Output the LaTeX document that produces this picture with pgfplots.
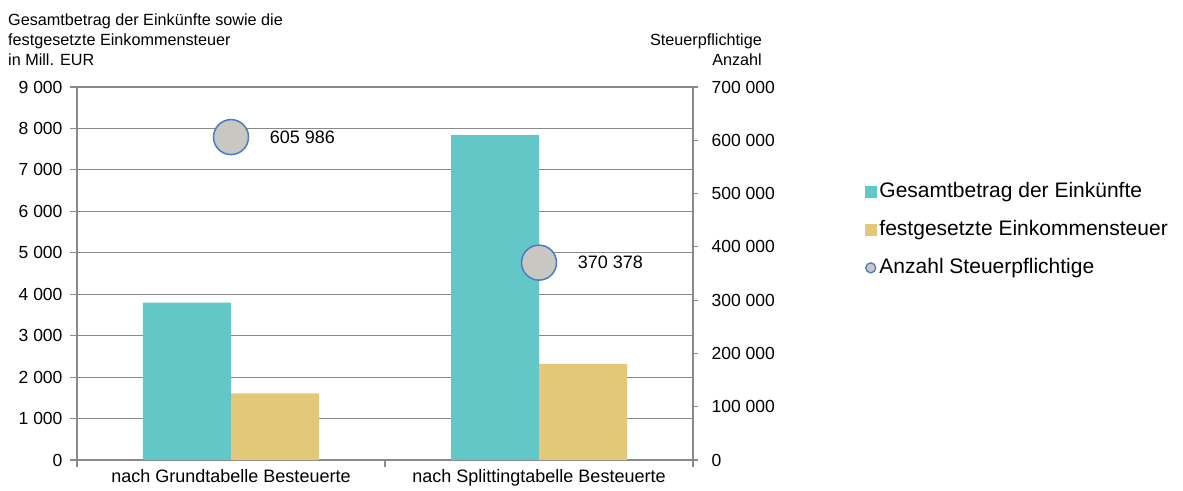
\documentclass[border=0pt]{standalone}
\usepackage{fontspec}
\setmainfont{Liberation Sans}
\usepackage{pgfplots}
\pgfplotsset{compat=1.18}
\definecolor{gesamt}{HTML}{63C7C7}
\definecolor{steuer}{HTML}{E3C87A}
\definecolor{punkt}{HTML}{C9C7C1}
\definecolor{rand}{HTML}{4A7BC8}
\definecolor{gitter}{HTML}{898989}
\newcommand{\tickfont}{\fontsize{17.5}{21}\selectfont}

\begin{document}
\begin{tikzpicture}
\useasboundingbox (-77pt,-30pt) rectangle (1106pt,460pt);
% left axis: bars in Mill. EUR
\begin{axis}[
  scale only axis, width=616pt, height=373pt,
  xmin=-0.5, xmax=1.5, ymin=0, ymax=9000,
  scaled y ticks=false,
  ybar=0pt, bar width=88pt,
  axis line style={gitter, line width=1.1pt},
  ymajorgrids, grid style={gitter, line width=1.1pt},
  tick align=outside, ytick pos=left, xtick pos=left,
  tick style={gitter, line width=1.1pt},
  major tick length=7pt,
  ytick={0,1000,2000,3000,4000,5000,6000,7000,8000,9000},
  yticklabels={0,1 000,2 000,3 000,4 000,5 000,6 000,7 000,8 000,9 000},
  yticklabel style={font=\tickfont, xshift=-4pt},
  xtick={-0.5,0.5,1.5}, xticklabels={},
  extra x ticks={0,1},
  extra x tick labels={nach Grundtabelle Besteuerte,nach Splittingtabelle Besteuerte},
  extra x tick style={major tick length=0pt,
    xticklabel style={font=\fontsize{18}{21}\selectfont, yshift=-6pt}},
]
\addplot[fill=gesamt, draw=none] coordinates {(0,3800) (1,7840)};
\addplot[fill=steuer, draw=none] coordinates {(0,1610) (1,2320)};
\end{axis}
% right axis: number of taxpayers
\begin{axis}[
  scale only axis, width=616pt, height=373pt,
  xmin=-0.5, xmax=1.5, ymin=0, ymax=700000,
  scaled y ticks=false,
  axis x line=none, axis y line*=right,
  axis line style={gitter, line width=1.1pt},
  tick align=outside,
  tick style={gitter, line width=1.1pt},
  major tick length=5pt,
  ytick={0,100000,200000,300000,400000,500000,600000,700000},
  yticklabels={0,100 000,200 000,300 000,400 000,500 000,600 000,700 000},
  yticklabel style={font=\tickfont, xshift=10pt},
  legend style={at={(1.279,0.617)}, anchor=west, draw=none, fill=none,
    inner sep=0pt, row sep=19pt, column sep=3pt,
    font=\fontsize{21}{25}\selectfont,
    nodes={inner sep=0pt, text height=15pt, text depth=4pt}},
  legend cell align=left,
]
\addlegendimage{legend image code/.code={\fill[gesamt] (0pt,-5.5pt) rectangle (11pt,5.5pt);}}
\addlegendentry{Gesamtbetrag der Einkünfte}
\addlegendimage{legend image code/.code={\fill[steuer] (0pt,-5.5pt) rectangle (11pt,5.5pt);}}
\addlegendentry{festgesetzte Einkommensteuer}
\addlegendimage{legend image code/.code={\draw[fill=punkt, draw=rand, line width=1.3pt] (5.5pt,0pt) circle (5pt);}}
\addlegendentry{Anzahl Steuerpflichtige}
\addplot[only marks, mark=*, mark size=17.5pt,
  mark options={fill=punkt, draw=rand, line width=1.5pt},
  nodes near coords, point meta=explicit symbolic,
  every node near coord/.append style={anchor=west, xshift=38pt, inner sep=0pt,
    font=\fontsize{18}{21}\selectfont, black},
  forget plot]
  coordinates {(0,605986) [605 986] (1,370378) [370 378]};
\end{axis}
\node[anchor=north west, align=left, inner sep=0pt, font=\fontsize{16.2}{20}\selectfont]
  at (-69pt,446pt) {Gesamtbetrag der Einkünfte sowie die\\festgesetzte Einkommensteuer\\in Mill. EUR};
\node[anchor=north east, align=right, inner sep=0pt, font=\fontsize{16.2}{20}\selectfont]
  at (685pt,426pt) {Steuerpflichtige\\Anzahl};
\end{tikzpicture}
\end{document}
